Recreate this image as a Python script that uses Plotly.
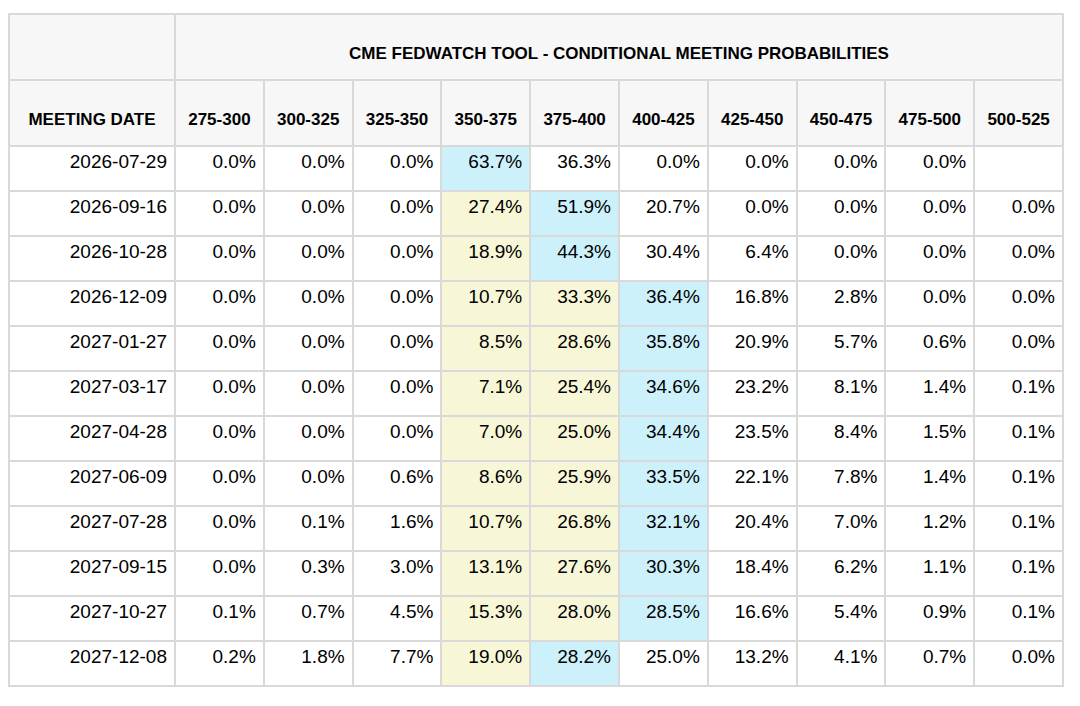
import plotly.graph_objects as go

############################################ DATA
title = "CME FEDWATCH TOOL - CONDITIONAL MEETING PROBABILITIES"
ranges = ['275-300', '300-325', '325-350', '350-375', '375-400', '400-425', '425-450', '450-475', '475-500', '500-525']
dates = ['2026-07-29', '2026-09-16', '2026-10-28', '2026-12-09', '2027-01-27', '2027-03-17',
         '2027-04-28', '2027-06-09', '2027-07-28', '2027-09-15', '2027-10-27', '2027-12-08']
probs = [
    [0.0, 0.0, 0.0, 63.7, 36.3, 0.0, 0.0, 0.0, 0.0, None],
    [0.0, 0.0, 0.0, 27.4, 51.9, 20.7, 0.0, 0.0, 0.0, 0.0],
    [0.0, 0.0, 0.0, 18.9, 44.3, 30.4, 6.4, 0.0, 0.0, 0.0],
    [0.0, 0.0, 0.0, 10.7, 33.3, 36.4, 16.8, 2.8, 0.0, 0.0],
    [0.0, 0.0, 0.0, 8.5, 28.6, 35.8, 20.9, 5.7, 0.6, 0.0],
    [0.0, 0.0, 0.0, 7.1, 25.4, 34.6, 23.2, 8.1, 1.4, 0.1],
    [0.0, 0.0, 0.0, 7.0, 25.0, 34.4, 23.5, 8.4, 1.5, 0.1],
    [0.0, 0.0, 0.6, 8.6, 25.9, 33.5, 22.1, 7.8, 1.4, 0.1],
    [0.0, 0.1, 1.6, 10.7, 26.8, 32.1, 20.4, 7.0, 1.2, 0.1],
    [0.0, 0.3, 3.0, 13.1, 27.6, 30.3, 18.4, 6.2, 1.1, 0.1],
    [0.1, 0.7, 4.5, 15.3, 28.0, 28.5, 16.6, 5.4, 0.9, 0.1],
    [0.2, 1.8, 7.7, 19.0, 28.2, 25.0, 13.2, 4.1, 0.7, 0.0],
]
yellow_cols = ['350-375', '375-400']

############################################ STYLE
BLUE = '#cdf1fb'
YELLOW = '#f7f7d7'
WHITE = 'white'
LINE = '#d9d9d9'
W, H = 1080, 706
# plotly insets the table by ~8px, so pull the domain back
x0, x1 = 1 / W, 1055 / W
top = 6
head_h = 66
row_h = 45
FONT = 'Liberation Sans, Arial'

def cell_colors():
    cols = [[WHITE] * len(dates)]
    for j, r in enumerate(ranges):
        col = []
        for i, row in enumerate(probs):
            vals = [v for v in row if v is not None]
            if row[j] is not None and row[j] == max(vals):
                col.append(BLUE)
            elif r in yellow_cols and i > 0:
                col.append(YELLOW)
            else:
                col.append(WHITE)
        cols.append(col)
    return cols

texts = [dates]
for j in range(len(ranges)):
    texts.append(['' if row[j] is None else '%.1f%%' % row[j] for row in probs])

def hdr(s):
    # blank first line pushes the label towards the middle of the tall header
    return ' <br><b>' + s + '</b>'

widths = [166] + [88.8] * len(ranges)
fig = go.Figure()

# title row
fig.add_trace(go.Table(
    domain=dict(x=[x0, x1], y=[1 - (top + head_h + 8) / H, 1 - top / H]),
    columnwidth=[166, 888],
    header=dict(values=['', hdr(title)], height=head_h, fill_color='#f7f7f7',
                line=dict(color=LINE, width=2), align='center',
                font=dict(family=FONT, size=17, color='black')),
))

# main table
fig.add_trace(go.Table(
    domain=dict(x=[x0, x1], y=[0, 1 - (top + head_h) / H]),
    columnwidth=widths,
    header=dict(values=[hdr('MEETING DATE')] + [hdr(r) for r in ranges],
                height=head_h, fill_color='#f7f7f7', line=dict(color=LINE, width=2), align='center',
                font=dict(family=FONT, size=17, color='black')),
    cells=dict(values=texts, height=row_h, fill_color=cell_colors(),
               line=dict(color=LINE, width=2), align='right',
               font=dict(family=FONT, size=19, color='black')),
))

fig.update_layout(width=W, height=H, margin=dict(l=0, r=0, t=0, b=0),
                  paper_bgcolor='white')
fig.write_html("out.html")
